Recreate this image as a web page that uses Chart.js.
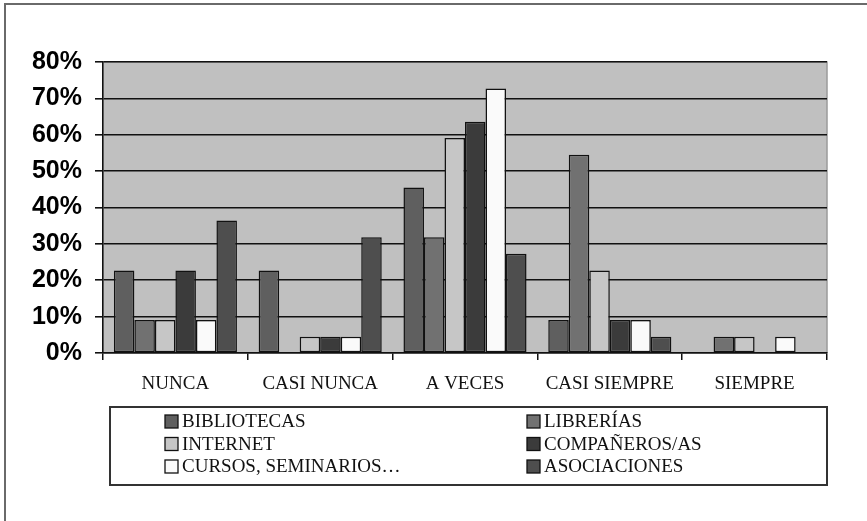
<!DOCTYPE html>
<html>
<head>
<meta charset="utf-8">
<script src="https://cdn.jsdelivr.net/npm/chart.js@4"></script>
<style>
html,body{margin:0;padding:0;background:#fff;}
#wrap{position:relative;width:867px;height:521px;}
canvas{display:block;}
</style>
</head>
<body>
<div id="wrap"><canvas id="c" width="867" height="521"></canvas></div>
<script>
const categories = ["NUNCA", "CASI NUNCA", "A VECES", "CASI SIEMPRE", "SIEMPRE"];
const seriesNames = ["BIBLIOTECAS", "LIBRERÍAS", "INTERNET", "COMPAÑEROS/AS", "CURSOS, SEMINARIOS…", "ASOCIACIONES"];
const bibliotecas = [22.7, 22.7, 45.5, 9.1, 0];
const librerias   = [9.1, 0, 31.8, 54.5, 4.5];
const internet    = [9.1, 4.5, 59.1, 22.7, 4.5];
const companeros  = [22.7, 4.5, 63.6, 9.1, 0];
const cursos      = [9.1, 4.5, 72.7, 9.1, 4.5];
const asociaciones= [36.4, 31.8, 27.3, 4.5, 0];
const yTicks = [0, 10, 20, 30, 40, 50, 60, 70, 80];
const seriesColors = ["#5f5f5f", "#717171", "#c6c6c6", "#3b3b3b", "#fafafa", "#4e4e4e"];

const seriesValues = [bibliotecas, librerias, internet, companeros, cursos, asociaciones];

const datasets = seriesNames.map((name, i) => ({
  label: name,
  data: seriesValues[i],
  backgroundColor: seriesColors[i],
  borderColor: "#111",
  borderWidth: 1.5,
  borderSkipped: false,
  categoryPercentage: 0.85,
  barPercentage: 1.0
}));

const framePlugin = {
  id: "frame",
  beforeDraw(chart) {
    const ctx = chart.ctx;
    const a = chart.chartArea;
    ctx.save();
    ctx.fillStyle = "#fff";
    ctx.fillRect(0, 0, chart.width, chart.height);
    ctx.strokeStyle = "#6a6a6a";
    ctx.lineWidth = 2;
    ctx.beginPath();
    ctx.moveTo(5, chart.height + 2);
    ctx.lineTo(5, 4);
    ctx.lineTo(chart.width + 2, 4);
    ctx.stroke();
    ctx.fillStyle = "#c0c0c0";
    ctx.fillRect(a.left, a.top, a.right - a.left, a.bottom - a.top);
    ctx.strokeStyle = "#9a9a9a";
    ctx.lineWidth = 1.5;
    ctx.beginPath();
    ctx.moveTo(a.left, a.top);
    ctx.lineTo(a.right, a.top);
    ctx.lineTo(a.right, a.bottom);
    ctx.stroke();
    ctx.restore();
  },
  afterDraw(chart) {
    const ctx = chart.ctx;
    const bx = 110, by = 407, bw = 717, bh = 78;
    ctx.save();
    ctx.strokeStyle = "#333";
    ctx.lineWidth = 2;
    ctx.strokeRect(bx, by, bw, bh);
    ctx.font = "19px 'Liberation Serif', 'Times New Roman', serif";
    ctx.textBaseline = "middle";
    ctx.textAlign = "left";
    const cols = [165, 527];
    const rows = [421.5, 444, 466.5];
    chart.data.datasets.forEach((ds, i) => {
      const x = cols[i % 2];
      const y = rows[Math.floor(i / 2)];
      ctx.fillStyle = ds.backgroundColor;
      ctx.fillRect(x, y - 6.5, 13, 13);
      ctx.strokeStyle = "#111";
      ctx.lineWidth = 1.3;
      ctx.strokeRect(x, y - 6.5, 13, 13);
      ctx.fillStyle = "#111";
      ctx.fillText(ds.label, x + 17, y + 1);
    });
    ctx.restore();
  }
};

new Chart(document.getElementById("c"), {
  type: "bar",
  data: { labels: categories, datasets },
  options: {
    responsive: false,
    animation: false,
    devicePixelRatio: 1,
    layout: { padding: { left: 0, right: 40, top: 62, bottom: 128 } },
    plugins: { legend: { display: false }, tooltip: { enabled: false } },
    scales: {
      x: {
        grid: { display: true, drawOnChartArea: false, drawTicks: true, tickLength: 7, color: "#111", lineWidth: 1.5, offset: true },
        border: { display: true, color: "#111", width: 1.5 },
        ticks: { color: "#111", padding: 13, font: { family: "'Liberation Serif', 'Times New Roman', serif", size: 19 }, maxRotation: 0 },
        afterFit(scale) { scale.height = 40; }
      },
      y: {
        min: 0, max: 80,
        afterBuildTicks(scale) { scale.ticks = yTicks.map(v => ({ value: v })); },
        grid: { color: "#111", lineWidth: 1.6, tickLength: 8, drawTicks: true },
        border: { display: true, color: "#111", width: 1.6 },
        ticks: {
          color: "#000",
          padding: 13,
          font: { family: "'Liberation Sans', Arial, sans-serif", size: 25, weight: "bold" },
          callback: v => v + "%"
        },
        afterFit(scale) { scale.width = 103; }
      }
    }
  },
  plugins: [framePlugin]
});
</script>
</body>
</html>
